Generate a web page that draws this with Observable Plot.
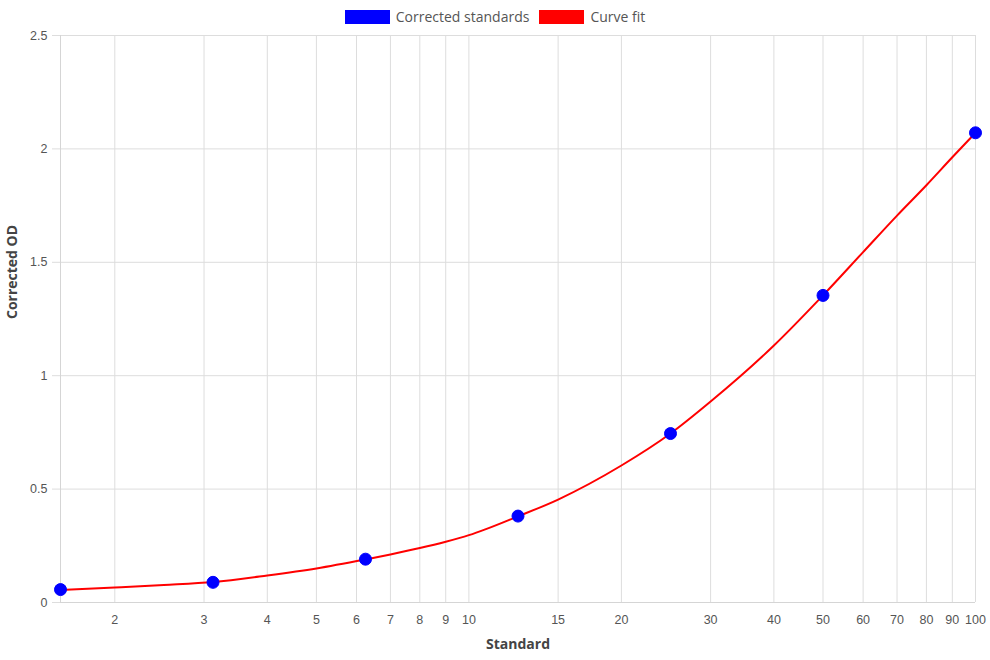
<!DOCTYPE html>
<html>
<head>
<meta charset="utf-8">
<script src="https://cdn.jsdelivr.net/npm/d3@7"></script>
<script src="https://cdn.jsdelivr.net/npm/@observablehq/plot@0.6"></script>
<style>
  body { margin: 0; background: #fff; }
  #wrap { position: relative; width: 990px; height: 660px; }
  #legend { position: absolute; left: 0; top: 0; width: 990px; height: 33px; display: flex; justify-content: center; align-items: center; gap: 10px;
    font-family: "Open Sans", "Noto Sans", sans-serif; font-size: 14px; color: #555; }
  .item { display: flex; align-items: center; gap: 6px; }
  .box { width: 45px; height: 14px; }
</style>
</head>
<body>
<div id="wrap"><div id="chart"></div><div id="legend"></div></div>
<script>
const standards = [1.5625, 3.125, 6.25, 12.5, 25, 50, 100];
const correctedOD = [0.057, 0.089, 0.191, 0.381, 0.745, 1.354, 2.071];

const fitX = [1.5625, 2, 2.5, 3.125, 4, 5, 6.25, 7, 8, 9, 10, 12.5, 15, 20, 25, 30, 40, 50, 60, 70, 80, 90, 100];
const fitY = [0.055, 0.066, 0.077, 0.090, 0.119, 0.150, 0.190, 0.212, 0.240, 0.268, 0.297, 0.380, 0.454, 0.604, 0.745, 0.886, 1.133, 1.354, 1.545, 1.706, 1.840, 1.963, 2.071];

const xTicks = [2, 3, 4, 5, 6, 7, 8, 9, 10, 15, 20, 30, 40, 50, 60, 70, 80, 90, 100];
const yTicks = [0, 0.5, 1, 1.5, 2, 2.5];

const seriesNames = ["Corrected standards", "Curve fit"];
const seriesColors = ["#0000ff", "#ff0000"];

const points = standards.map((x, i) => ({x, y: correctedOD[i]}));
const fit = fitX.map((x, i) => ({x, y: fitY[i]}));

const legend = document.getElementById("legend");
seriesNames.forEach((n, i) => {
  const it = document.createElement("div");
  it.className = "item";
  it.innerHTML = `<span class="box" style="background:${seriesColors[i]}"></span><span>${n}</span>`;
  legend.appendChild(it);
});

const chart = Plot.plot({
  width: 990,
  height: 660,
  marginTop: 35,
  marginBottom: 58,
  marginLeft: 60,
  marginRight: 15,
  style: {fontFamily: "'Liberation Sans', Arial, sans-serif", fontSize: "12px", background: "#fff"},
  x: {type: "log", domain: [1.5625, 100], axis: null},
  y: {domain: [0, 2.5]},
  marks: [
    Plot.gridX(xTicks, {stroke: "#dddddd", strokeOpacity: 1}),
    Plot.gridY(yTicks, {stroke: "#dddddd", strokeOpacity: 1}),
    Plot.ruleX([1.5625], {stroke: "#d5d5d5"}),
    Plot.ruleY([0], {stroke: "#d5d5d5"}),
    Plot.axisY({ticks: yTicks, tickSize: 8, stroke: "#dddddd", fill: "#555", tickPadding: 5, label: null, fontSize: 12.5, tickFormat: d => String(d)}),
    Plot.text(xTicks, {x: d => d, frameAnchor: "bottom", dy: 21, text: d => String(d), fill: "#555", fontSize: 12.5}),
    Plot.line(fit, {x: "x", y: "y", stroke: seriesColors[1], strokeWidth: 2, curve: "monotone-x"}),
    Plot.dot(points, {x: "x", y: "y", r: 6, fill: seriesColors[0], stroke: seriesColors[0], strokeWidth: 1}),
    Plot.text(["Standard"], {frameAnchor: "bottom", dy: 46, fontWeight: "bold", fontSize: 14, fill: "#444", fontFamily: "'Open Sans', sans-serif"}),
    Plot.text(["Corrected OD"], {frameAnchor: "left", dx: -48, rotate: -90, fontWeight: "bold", fontSize: 14, fill: "#444", fontFamily: "'Open Sans', sans-serif"})
  ]
});
document.getElementById("chart").appendChild(chart);
</script>
</body>
</html>
